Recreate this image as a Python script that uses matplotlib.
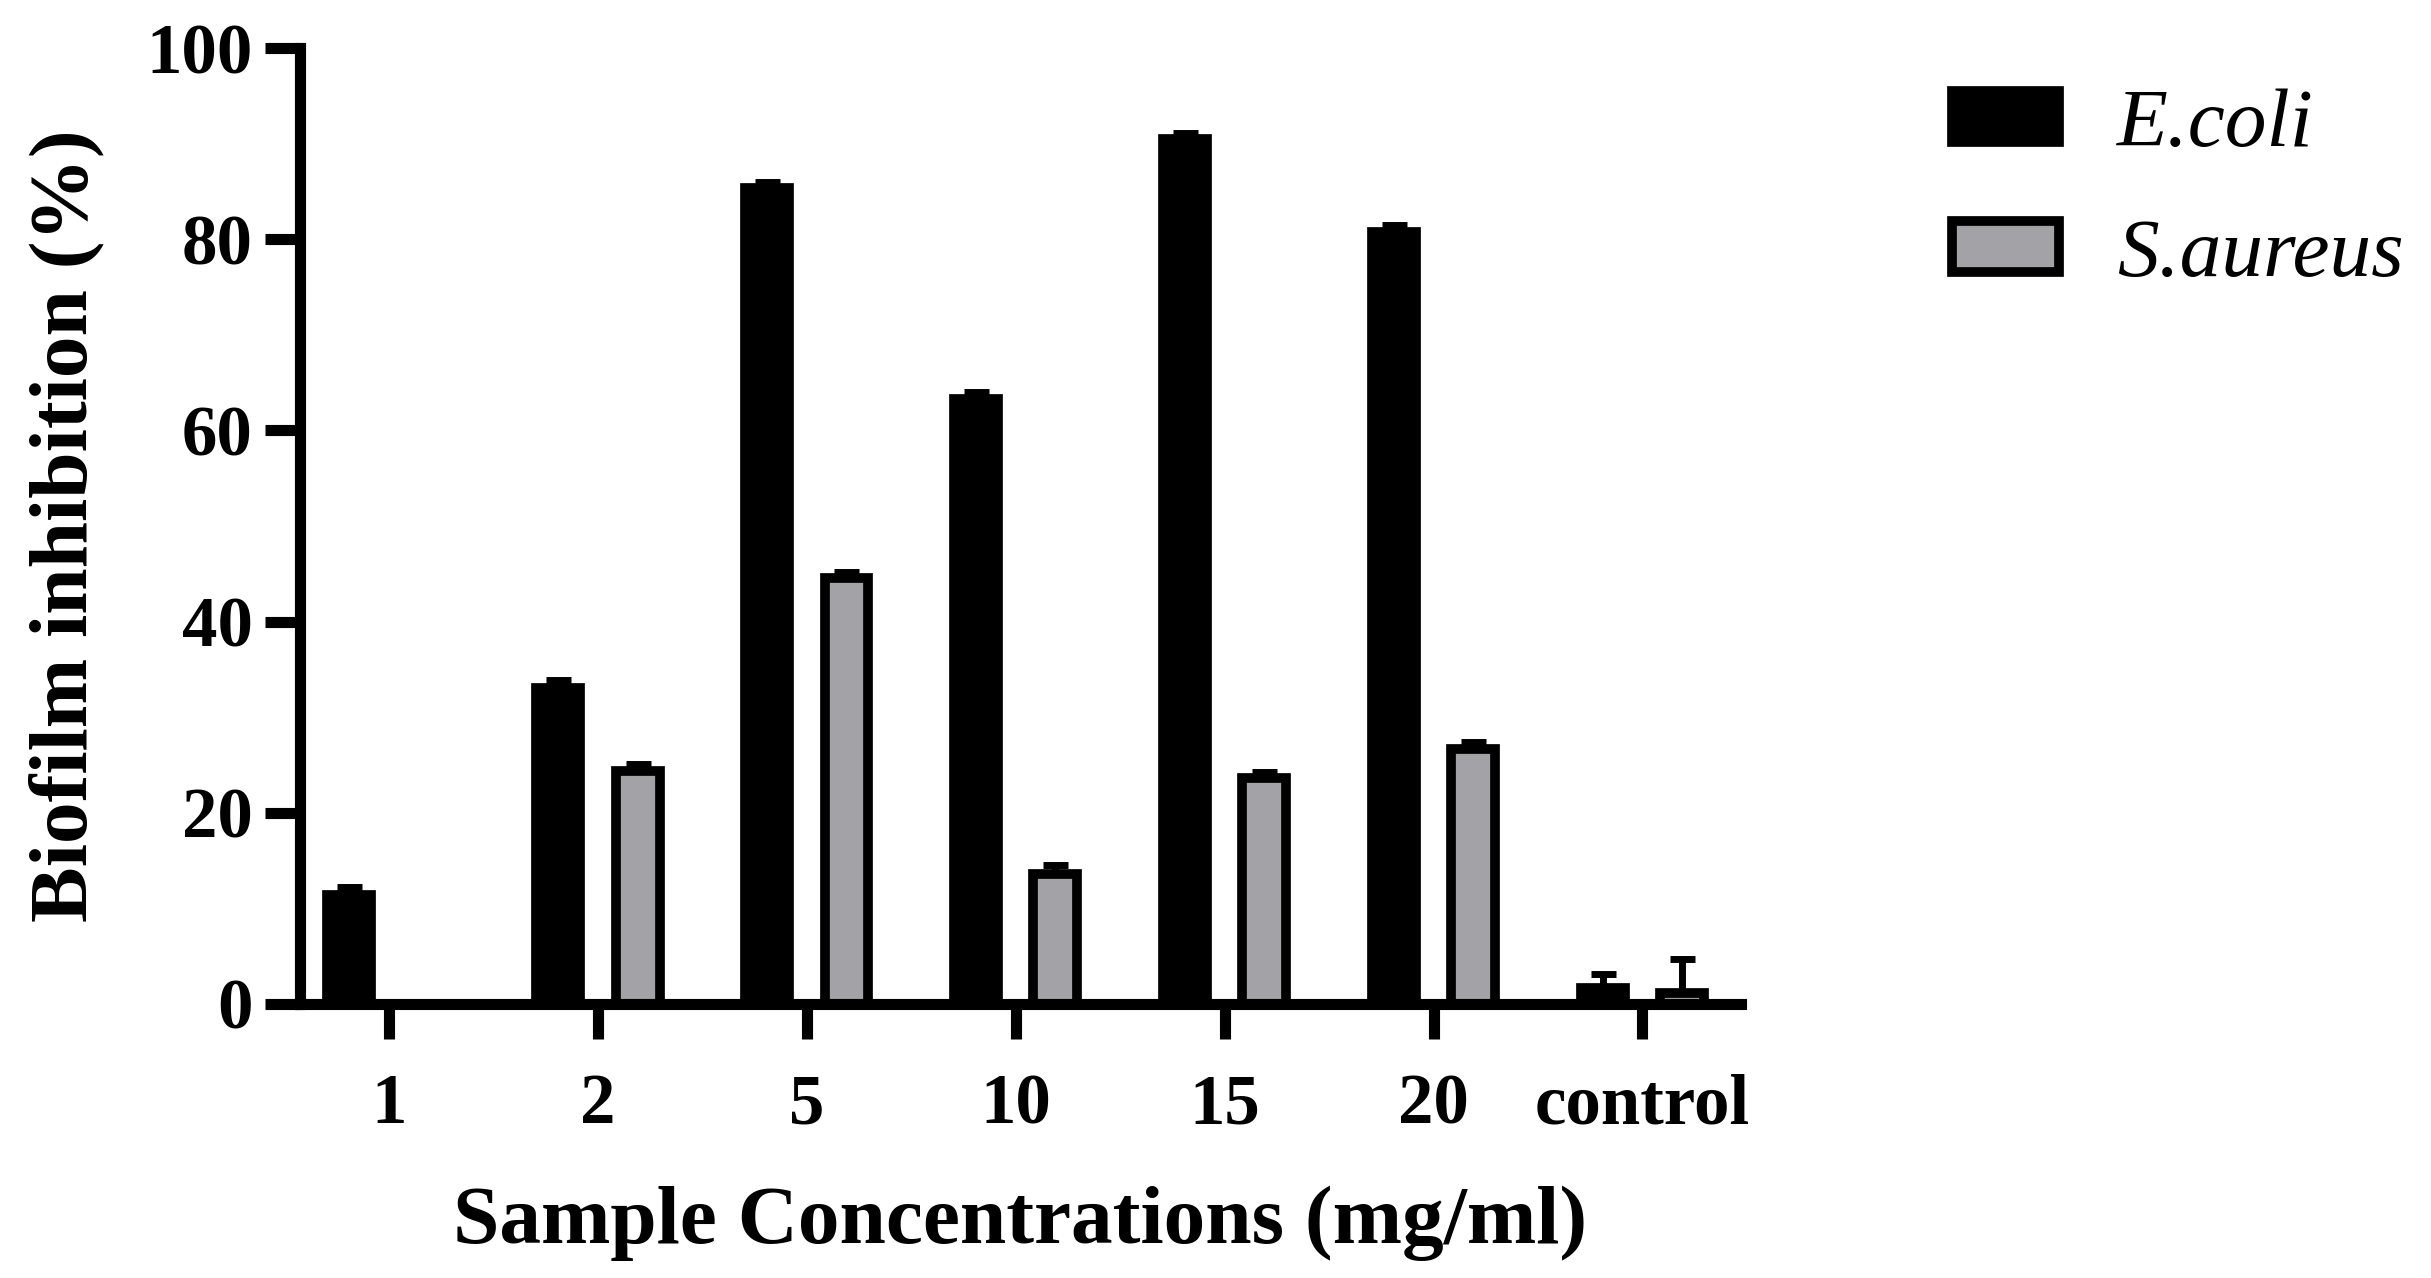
import numpy as np
import matplotlib
matplotlib.use('Agg')
import matplotlib.pyplot as plt

categories = ['1', '2', '5', '10', '15', '20', 'control']
ecoli = [11.4, 33.1, 85.4, 63.3, 90.5, 80.8, 1.7]
ecoli_err = [0.8, 0.8, 0.6, 0.7, 0.6, 0.7, 1.4]
saureus = [0.0, 24.4, 44.6, 13.6, 23.6, 26.7, 1.2]
saureus_err = [0.0, 0.7, 0.6, 0.9, 0.7, 0.7, 3.5]
yticks = [0, 20, 40, 60, 80, 100]

plt.rcParams['font.family'] = ['Liberation Serif', 'DejaVu Serif']
plt.rcParams['font.weight'] = 'bold'

fig = plt.figure(figsize=(24.31, 12.78), dpi=100)
ax = fig.add_axes([0.1234, 0.2144, 0.716 - 0.1234, 0.9624 - 0.2144])

x = np.arange(len(categories))
off = 0.19
w = 0.21
bar_kw = dict(width=w, edgecolor='black', linewidth=7, zorder=3)
err_kw = dict(fmt='none', ecolor='black', elinewidth=5, capsize=9,
              capthick=5, zorder=4)

b1 = ax.bar(x - off, ecoli, color='black', label='E.coli', **bar_kw)
b2 = ax.bar(x + off, saureus, color='#a3a2a7', label='S.aureus', **bar_kw)
ax.errorbar(x - off, ecoli, yerr=[np.zeros(len(x)), ecoli_err], **err_kw)
ax.errorbar(x + off, saureus, yerr=[np.zeros(len(x)), saureus_err], **err_kw)

ax.set_xlim(-0.426, 6.47)
ax.set_ylim(0, 100)
ax.set_yticks(yticks)
ax.set_xticks(x)
ax.set_xticklabels(categories)

for side in ['top', 'right']:
    ax.spines[side].set_visible(False)
for side in ['left', 'bottom']:
    ax.spines[side].set_linewidth(8)
    ax.spines[side].set_capstyle('projecting')
    ax.spines[side].set_zorder(5)

ax.tick_params(axis='both', length=25, width=8, labelsize=51)
ax.tick_params(axis='y', pad=9)
ax.tick_params(axis='x', pad=25)

ax.set_xlabel('Sample Concentrations (mg/ml)', fontsize=60,
              fontweight='bold', labelpad=34)
ax.set_ylabel('Biofilm inhibition (%)', fontsize=60,
              fontweight='bold', labelpad=30)

leg = fig.legend(handles=[b1, b2], labels=['E.coli', 'S.aureus'],
                 loc='upper left', bbox_to_anchor=(0.803, 0.931),
                 frameon=False, borderpad=0, borderaxespad=0,
                 handlelength=1.28, handleheight=0.56,
                 handletextpad=0.7, labelspacing=0.66,
                 prop={'family': 'Liberation Serif', 'style': 'italic',
                       'weight': 'normal', 'size': 60})

fig.savefig('out.png', dpi=100)
